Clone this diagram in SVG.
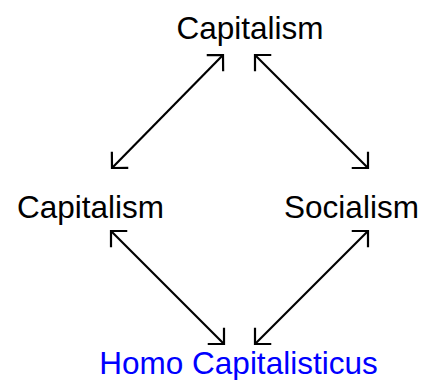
<svg xmlns="http://www.w3.org/2000/svg" width="422" height="380" viewBox="0 0 422 380">
<defs>
<style>
text{font-family:"Liberation Sans",Arial,sans-serif;font-size:31.5px;text-anchor:middle;fill:#000}
.blue{fill:#0000ff}
.c{stroke:#000;stroke-width:2.2;fill:none;marker-start:url(#a);marker-end:url(#a)}
</style>
<marker id="a" viewBox="-14 -14 28 28" markerWidth="28" markerHeight="28" refX="0" refY="0" orient="auto-start-reverse" markerUnits="userSpaceOnUse">
<path d="M-11.5,-11.5 L0,0 L-11.5,11.5" fill="none" stroke="#000" stroke-width="2.2" stroke-linecap="butt"/>
</marker>
</defs>
<rect width="422" height="380" fill="#fff"/>
<g id="connectors">
<path class="c" d="M112,168 L223,55"/>
<path class="c" d="M255,55 L368,168"/>
<path class="c" d="M111,231 L224,344"/>
<path class="c" d="M368,231 L255,344"/>
</g>
<g id="top"><text x="250" y="39">Capitalism</text></g>
<g id="left"><text x="90.5" y="218">Capitalism</text></g>
<g id="right"><text x="351.5" y="218">Socialism</text></g>
<g id="bottom"><text class="blue" x="238.5" y="374">Homo Capitalisticus</text></g>
</svg>
